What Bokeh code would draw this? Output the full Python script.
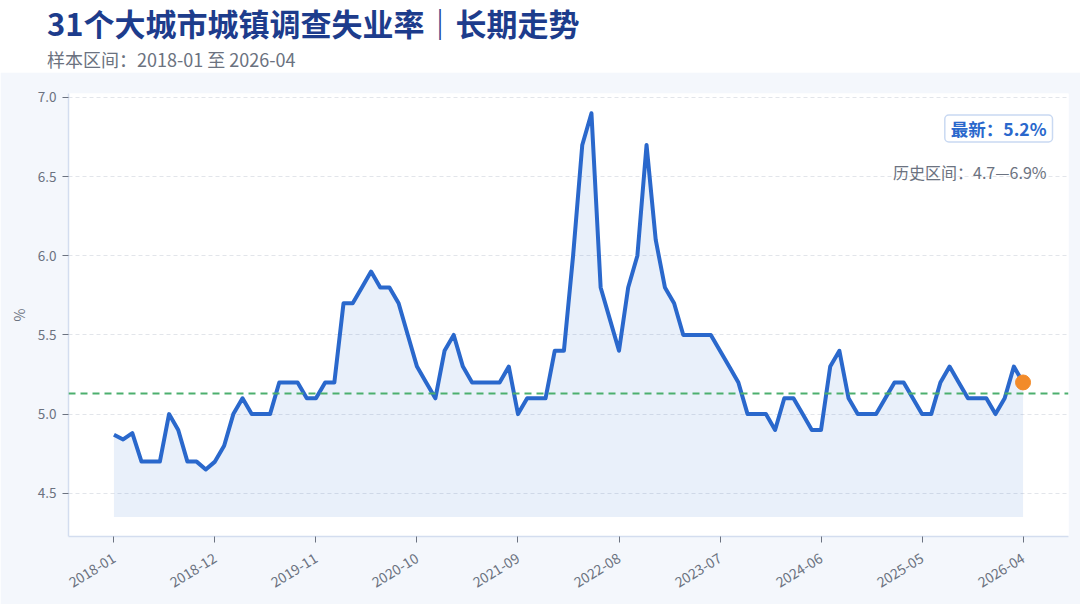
from bokeh.plotting import figure
from bokeh.layouts import column
from bokeh.models import FixedTicker, Label, ColumnDataSource, Span, Div
from bokeh.embed import file_html
from bokeh.resources import INLINE

# ---------------- data ----------------
start_month = "2018-01"
end_month = "2026-04"
rates = [
    4.87, 4.84, 4.88, 4.70, 4.70, 4.70, 5.00, 4.90, 4.70, 4.70,
    4.65, 4.70, 4.80, 5.00, 5.10, 5.00, 5.00, 5.00, 5.20, 5.20,
    5.20, 5.10, 5.10, 5.20, 5.20, 5.70, 5.70, 5.80, 5.90, 5.80,
    5.80, 5.70, 5.50, 5.30, 5.20, 5.10, 5.40, 5.50, 5.30, 5.20,
    5.20, 5.20, 5.20, 5.30, 5.00, 5.10, 5.10, 5.10, 5.40, 5.40,
    6.00, 6.70, 6.90, 5.80, 5.60, 5.40, 5.80, 6.00, 6.70, 6.10,
    5.80, 5.70, 5.50, 5.50, 5.50, 5.50, 5.40, 5.30, 5.20, 5.00,
    5.00, 5.00, 4.90, 5.10, 5.10, 5.00, 4.90, 4.90, 5.30, 5.40,
    5.10, 5.00, 5.00, 5.00, 5.10, 5.20, 5.20, 5.10, 5.00, 5.00,
    5.20, 5.30, 5.20, 5.10, 5.10, 5.10, 5.00, 5.10, 5.30, 5.20,
]
tick_positions = [0, 11, 22, 33, 44, 55, 66, 77, 88, 99]
tick_labels = ["2018-01", "2018-12", "2019-11", "2020-10", "2021-09",
               "2022-08", "2023-07", "2024-06", "2025-05", "2026-04"]
y_ticks = [4.5, 5.0, 5.5, 6.0, 6.5, 7.0]
reference_level = 5.13
fill_base = 4.35

title_text = "31个大城市城镇调查失业率｜长期走势"
subtitle_text = f"样本区间：{start_month} 至 {end_month}"
latest_text = "最新：5.2%"
range_text = "历史区间：4.7—6.9%"

# ---------------- styling ----------------
FONT = "Noto Sans CJK SC"
BG = "#f4f7fc"
LINE = "#2a68cc"
GRAY = "#6b7280"
W = 1080
TITLE_H = 46
SUB_H = 26
HEAD_H = TITLE_H + SUB_H

# ---------------- header (title + subtitle) ----------------
title_div = Div(text=title_text, width=W - 47, height=TITLE_H, margin=(0, 0, 0, 47),
                styles={"font-family": FONT, "font-size": "31px", "font-weight": "bold",
                        "color": "#1d3c8c", "line-height": f"{TITLE_H}px",
                        "white-space": "nowrap", "overflow": "visible"})
sub_div = Div(text=subtitle_text, width=W - 47, height=SUB_H, margin=(0, 0, 0, 47),
              styles={"font-family": FONT, "font-size": "18px", "font-weight": "normal",
                      "color": GRAY, "line-height": f"{SUB_H}px",
                      "white-space": "nowrap", "overflow": "visible"})

# ---------------- main chart ----------------
idx = list(range(len(rates)))
src = ColumnDataSource(dict(x=idx, y=rates, base=[fill_base] * len(rates)))

p = figure(width=W, height=604 - HEAD_H, output_backend="svg", toolbar_location=None,
           x_range=(-4.95, 103.95), y_range=(4.227, 7.025), title=None,
           min_border_left=68, min_border_right=12, min_border_top=93 - HEAD_H,
           min_border_bottom=68, margin=0)
p.background_fill_color = "white"
p.border_fill_color = BG
p.outline_line_color = None

p.varea(x="x", y1="base", y2="y", source=src, fill_color=LINE, fill_alpha=0.1)
p.add_layout(Span(location=reference_level, dimension="width", line_color="#4caf6e",
                  line_width=2, line_dash="7 5"))
p.line(x="x", y="y", source=src, line_color=LINE, line_width=4, line_join="round")
p.scatter(x=[idx[-1]], y=[rates[-1]], size=15, color="#f28b2a")

p.xaxis.ticker = FixedTicker(ticks=tick_positions)
p.xaxis.major_label_overrides = {t: l for t, l in zip(tick_positions, tick_labels)}
p.xaxis.major_label_orientation = 0.55
p.yaxis.ticker = FixedTicker(ticks=y_ticks)
p.yaxis.major_label_overrides = {t: f"{t:.1f}" for t in y_ticks}
for ax in (p.xaxis, p.yaxis):
    ax.axis_line_color = "#d3ddef"
    ax.axis_line_width = 1.5
    ax.major_tick_line_color = "#6b7280"
    ax.major_tick_out = 6
    ax.major_tick_in = 0
    ax.minor_tick_line_color = None
    ax.major_label_text_font = FONT
    ax.major_label_text_color = GRAY
p.xaxis.major_label_text_font_size = "14px"
p.yaxis.major_label_text_font_size = "13.5px"
p.xaxis.major_label_standoff = 14
p.yaxis.major_label_standoff = 6
p.yaxis.axis_label = "%"
p.yaxis.axis_label_text_font = FONT
p.yaxis.axis_label_text_font_size = "14px"
p.yaxis.axis_label_text_font_style = "normal"
p.yaxis.axis_label_text_color = GRAY
p.yaxis.axis_label_standoff = 6

p.xgrid.grid_line_color = None
p.ygrid.grid_line_color = "#e2e5ea"
p.ygrid.grid_line_dash = "4 3"

p.add_layout(Label(x=1052, y=128 - HEAD_H, x_units="canvas", y_units="canvas",
                   text=latest_text, text_font=FONT, text_font_size="17.5px",
                   text_font_style="bold", text_color=LINE, text_align="right",
                   text_baseline="middle", background_fill_color="white",
                   border_line_color="#c9d9f2", border_line_width=1.5,
                   padding=(6, 1), border_radius=4))
p.add_layout(Label(x=1046, y=171 - HEAD_H, x_units="canvas", y_units="canvas",
                   text=range_text, text_font=FONT, text_font_size="16px",
                   text_color=GRAY, text_align="right", text_baseline="middle"))

layout = column(title_div, sub_div, p, spacing=0)
html = file_html(layout, INLINE)
html = html.replace("<body>", f'<body style="background:{BG}">', 1)
open("out.html", "w").write(html)
